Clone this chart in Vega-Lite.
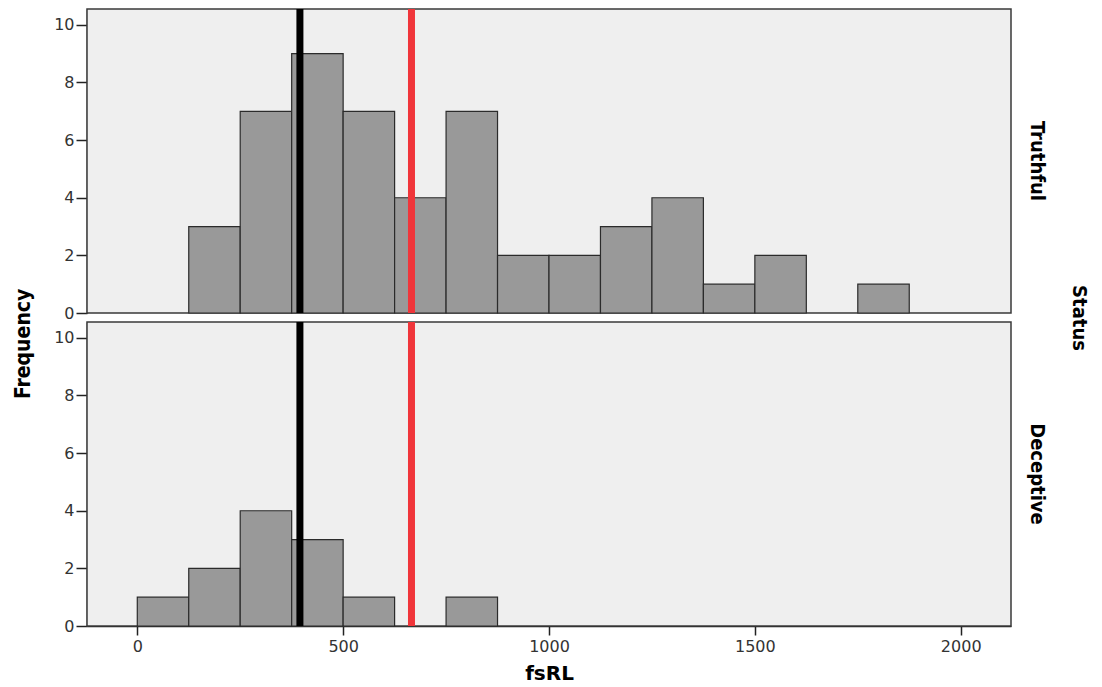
{
  "$schema": "https://vega.github.io/schema/vega-lite/v6.json",
  "padding": {"left": 12, "top": 4, "right": 2, "bottom": 0},
  "background": "white",
  "bounds": "flush",
  "title": {
    "text": "Frequency",
    "orient": "left",
    "anchor": "middle",
    "font": "DejaVu Sans Condensed, sans-serif",
    "fontWeight": "bold",
    "fontSize": 21,
    "color": "#000",
    "offset": 20
  },
  "data": {"values": [
    {"Status": "Truthful", "kind": "bar", "start": 125, "end": 250, "count": 3},
    {"Status": "Truthful", "kind": "bar", "start": 250, "end": 375, "count": 7},
    {"Status": "Truthful", "kind": "bar", "start": 375, "end": 500, "count": 9},
    {"Status": "Truthful", "kind": "bar", "start": 500, "end": 625, "count": 7},
    {"Status": "Truthful", "kind": "bar", "start": 625, "end": 750, "count": 4},
    {"Status": "Truthful", "kind": "bar", "start": 750, "end": 875, "count": 7},
    {"Status": "Truthful", "kind": "bar", "start": 875, "end": 1000, "count": 2},
    {"Status": "Truthful", "kind": "bar", "start": 1000, "end": 1125, "count": 2},
    {"Status": "Truthful", "kind": "bar", "start": 1125, "end": 1250, "count": 3},
    {"Status": "Truthful", "kind": "bar", "start": 1250, "end": 1375, "count": 4},
    {"Status": "Truthful", "kind": "bar", "start": 1375, "end": 1500, "count": 1},
    {"Status": "Truthful", "kind": "bar", "start": 1500, "end": 1625, "count": 2},
    {"Status": "Truthful", "kind": "bar", "start": 1750, "end": 1875, "count": 1},
    {"Status": "Deceptive", "kind": "bar", "start": 0, "end": 125, "count": 1},
    {"Status": "Deceptive", "kind": "bar", "start": 125, "end": 250, "count": 2},
    {"Status": "Deceptive", "kind": "bar", "start": 250, "end": 375, "count": 4},
    {"Status": "Deceptive", "kind": "bar", "start": 375, "end": 500, "count": 3},
    {"Status": "Deceptive", "kind": "bar", "start": 500, "end": 625, "count": 1},
    {"Status": "Deceptive", "kind": "bar", "start": 750, "end": 875, "count": 1},
    {"Status": "Truthful", "kind": "line", "line": "median", "ref": 395},
    {"Status": "Truthful", "kind": "line", "line": "mean", "ref": 666},
    {"Status": "Deceptive", "kind": "line", "line": "median", "ref": 395},
    {"Status": "Deceptive", "kind": "line", "line": "mean", "ref": 666}
  ]},
  "facet": {
    "row": {
      "field": "Status",
      "type": "nominal",
      "sort": ["Truthful", "Deceptive"],
      "header": {
        "title": "Status",
        "labelOrient": "right",
        "labelAngle": 90,
        "labelAlign": "center",
        "labelBaseline": "middle",
        "labelFont": "DejaVu Sans Condensed, sans-serif",
        "labelFontWeight": "bold",
        "labelFontSize": 20,
        "labelColor": "#000",
        "labelPadding": 6,
        "titleOrient": "right",
        "titleAngle": 90,
        "titleAlign": "center",
        "titleBaseline": "middle",
        "titleFont": "DejaVu Sans Condensed, sans-serif",
        "titleFontWeight": "bold",
        "titleFontSize": 20,
        "titleColor": "#000",
        "titlePadding": 2
      }
    }
  },
  "spacing": 9,
  "spec": {
    "width": 924,
    "height": 304,
    "layer": [
      {
        "transform": [{"filter": "datum.kind === 'bar'"}],
        "mark": {"type": "bar", "orient": "vertical", "fill": "#999999", "stroke": "#2b2b2b", "strokeWidth": 1.2},
        "encoding": {
          "x": {
            "field": "start", "type": "quantitative",
            "scale": {"domain": [-110, 2110], "nice": false, "zero": false},
            "axis": {
              "values": [0, 500, 1000, 1500, 2000],
              "format": "d",
              "title": "fsRL",
              "tickSize": 9,
              "labelPadding": 3
            }
          },
          "x2": {"field": "end"},
          "y": {
            "field": "count", "type": "quantitative",
            "scale": {"domain": [0, 10.55], "nice": false},
            "axis": {"values": [0, 2, 4, 6, 8, 10], "title": null, "tickSize": 11, "labelPadding": 2}
          },
          "y2": {"datum": 0}
        }
      },
      {
        "transform": [{"filter": "datum.kind === 'line'"}],
        "mark": {"type": "rule", "strokeWidth": 7},
        "encoding": {
          "x": {"field": "ref", "type": "quantitative"},
          "color": {
            "field": "line", "type": "nominal",
            "scale": {"domain": ["median", "mean"], "range": ["#000000", "#f0353a"]},
            "legend": null
          }
        }
      }
    ]
  },
  "config": {
    "view": {"fill": "#efefef", "stroke": "#3a3a3a", "strokeWidth": 1.5},
    "axis": {
      "grid": false,
      "domainColor": "#222",
      "domainWidth": 1.5,
      "tickColor": "#222",
      "tickWidth": 1.5,
      "labelFont": "DejaVu Sans",
      "labelFontSize": 16,
      "labelColor": "#333",
      "titleColor": "#000"
    },
    "axisX": {
      "titleFont": "DejaVu Sans",
      "titleFontWeight": "bold",
      "titleFontSize": 20,
      "titlePadding": 9
    }
  }
}
